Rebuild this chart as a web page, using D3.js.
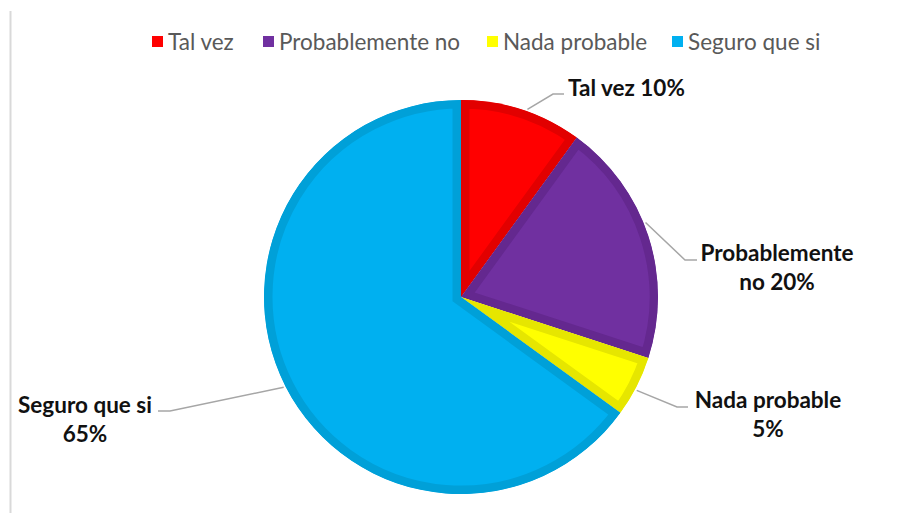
<!DOCTYPE html>
<html>
<head>
<meta charset="utf-8">
<script src="https://cdn.jsdelivr.net/npm/d3@7"></script>
<style>
  body { margin: 0; background: #fff; }
  text { font-family: Lato, "Open Sans", sans-serif; }
</style>
</head>
<body>
<div id="chart"></div>
<script>
const F_WIDTH = 901;
const F_HEIGHT = 517;
const CENTER = {x: 461, y: 297};
const RADIUS = 197;

// data
const CATEGORIES = ["Tal vez", "Probablemente no", "Nada probable", "Seguro que si"];
const VALUES = [10, 20, 5, 65];
const FILLS = ["#FF0000", "#7030A0", "#FFFF00", "#00B0F0"];
const EDGES = ["#E20000", "#64288F", "#E6E600", "#00A0D8"];
const LABEL_LINES = [["Tal vez 10%"], ["Probablemente", "no 20%"], ["Nada probable", "5%"], ["Seguro que si", "65%"]];

const FRAME = d3.select("#chart")
  .append("svg")
    .attr("width", F_WIDTH)
    .attr("height", F_HEIGHT);

// left border of the chart area
FRAME.append("line")
  .attr("x1", 10.5).attr("x2", 10.5)
  .attr("y1", 11).attr("y2", 513)
  .attr("stroke", "#D9D9D9")
  .attr("stroke-width", 2);

const pie = d3.pie().sort(null).value(d => d);
const arcs = pie(VALUES);
const arc = d3.arc().innerRadius(0).outerRadius(RADIUS);

const G = FRAME.append("g")
  .attr("transform", "translate(" + CENTER.x + "," + CENTER.y + ")");

// clip each slice so the thick stroke stays inside it
const defs = FRAME.append("defs");
arcs.forEach((a, i) => {
  defs.append("clipPath")
    .attr("id", "clip" + i)
    .append("path")
      .attr("d", arc(a));
});

G.selectAll(".slice")
  .data(arcs)
  .enter()
  .append("path")
    .attr("class", "slice")
    .attr("d", arc)
    .attr("clip-path", (d, i) => "url(#clip" + i + ")")
    .attr("fill", (d, i) => FILLS[i])
    .attr("stroke", (d, i) => EDGES[i])
    .attr("stroke-width", 17)
    .attr("stroke-linejoin", "miter");

// leader lines: from pie edge, elbow, short horizontal
const LEADERS = [
  {angle: 19.5, elbow: [553, 94], end: [564, 94]},
  {angle: 68, elbow: [685, 260], end: [697, 260]},
  {angle: 118, elbow: [677, 407], end: [688, 407]},
  {angle: 243, elbow: [170, 411], end: [158, 411]}
];

const edgePoint = (deg, r) => {
  const t = deg * Math.PI / 180;
  return [CENTER.x + r * Math.sin(t), CENTER.y - r * Math.cos(t)];
};

FRAME.selectAll(".leader")
  .data(LEADERS)
  .enter()
  .append("polyline")
    .attr("class", "leader")
    .attr("points", d => [edgePoint(d.angle, RADIUS + 2), d.elbow, d.end].map(p => p.join(",")).join(" "))
    .attr("fill", "none")
    .attr("stroke", "#A6A6A6")
    .attr("stroke-width", 1.5);

// data labels
const LABEL_POS = [
  {x: 568, y: 96, anchor: "start"},
  {x: 777, y: 261, anchor: "middle"},
  {x: 768, y: 408, anchor: "middle"},
  {x: 85, y: 413, anchor: "middle"}
];

LABEL_LINES.forEach((lines, i) => {
  const t = FRAME.append("text")
    .attr("x", LABEL_POS[i].x)
    .attr("y", LABEL_POS[i].y)
    .attr("text-anchor", LABEL_POS[i].anchor)
    .attr("font-size", 22.5)
    .attr("font-weight", "bold")
    .attr("fill", "#111");
  lines.forEach((s, j) => {
    t.append("tspan")
      .attr("x", LABEL_POS[i].x)
      .attr("dy", j === 0 ? 0 : 29)
      .text(s);
  });
});

// legend
const LEGEND_X = [152, 263, 487, 672];
const legend = FRAME.selectAll(".legend")
  .data(CATEGORIES)
  .enter()
  .append("g")
    .attr("class", "legend")
    .attr("transform", (d, i) => "translate(" + LEGEND_X[i] + ",42)");

legend.append("rect")
  .attr("x", 0).attr("y", -6)
  .attr("width", 11).attr("height", 11)
  .attr("fill", (d, i) => FILLS[i]);

legend.append("text")
  .attr("x", 16)
  .attr("y", 7.5)
  .attr("font-size", 22.5)
  .attr("fill", "#595959")
  .text(d => d);
</script>
</body>
</html>
